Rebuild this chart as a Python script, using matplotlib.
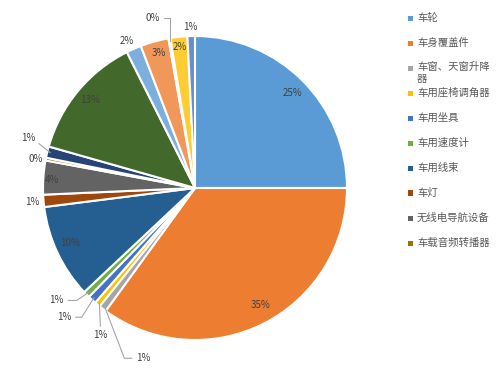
import numpy as np
import matplotlib
matplotlib.use("Agg")
from matplotlib import pyplot as plt
from matplotlib.patches import Rectangle

plt.rcParams['font.family'] = ['Noto Sans CJK SC', 'DejaVu Sans']

# slice names (the Excel legend only shows the first ten)
categories = ['车轮', '车身覆盖件', '车窗、天窗升降器', '车用座椅调角器', '车用坐具',
              '车用速度计', '车用线束', '车灯', '无线电导航设备', '车载音频转播器',
              '', '', '', '', '', '', '']
# share in percent, clockwise from 12 o'clock
values = [25.0, 35.0, 0.8, 0.6, 0.9, 0.7, 10.0, 1.3, 3.6, 0.3,
          1.2, 13.2, 1.6, 3.0, 0.2, 1.8, 0.8]

colors = ['#5B9BD5', '#ED7D31', '#A5A5A5', '#FFC000', '#4472C4', '#70AD47',
          '#255E91', '#9E480E', '#636363', '#997300', '#264478', '#43682B',
          '#7CAFDD', '#F1975A', '#B7B7B7', '#FFCD33', '#698ED0']

# label placement (axes data units); leader = connection style or None
label_pos = [(0.64, 0.625), (0.43, -0.77), (-0.34, -1.12), (-0.62, -0.97),
             (-0.86, -0.85), (-0.91, -0.74), (-0.82, -0.36), (-1.07, -0.09),
             (-0.94, 0.05), (-1.05, 0.19), (-1.10, 0.33), (-0.69, 0.58),
             (-0.45, 0.97), (-0.24, 0.89), (-0.28, 1.12), (-0.10, 0.93),
             (-0.03, 1.06)]
leader = [None, None, "angle,angleA=0,angleB=-69,rad=0", "arc3",
          "angle,angleA=0,angleB=58,rad=0", "angle,angleA=0,angleB=34,rad=0",
          None, None, None, None, "angle,angleA=0,angleB=-39,rad=0", None,
          None, None, "angle,angleA=0,angleB=90,rad=0", None, None]

text_color = '#404040'

fig = plt.figure(figsize=(5.03, 3.82), dpi=100)
ax = fig.add_axes([43 / 503, 42 / 382, 304 / 503, 304 / 382])

wedges, _ = ax.pie(values, colors=colors, startangle=90, counterclock=False,
                   radius=1.0, wedgeprops=dict(edgecolor='white', linewidth=1.5))
ax.set_xlim(-1, 1)
ax.set_ylim(-1, 1)
ax.set_aspect('auto')
ax.axis('off')

for w, v, pos, lead in zip(wedges, values, label_pos, leader):
    txt = f"{round(v)}%"
    if lead:
        ang = np.deg2rad((w.theta1 + w.theta2) / 2)
        edge = (0.98 * np.cos(ang), 0.98 * np.sin(ang))
        ax.annotate(txt, xy=edge, xytext=pos, ha='center', va='center',
                    fontsize=7, color=text_color, annotation_clip=False,
                    arrowprops=dict(arrowstyle='-', color='#A6A6A6', lw=0.8,
                                    shrinkA=1, shrinkB=0, connectionstyle=lead))
    else:
        ax.text(pos[0], pos[1], txt, ha='center', va='center', fontsize=7,
                color=text_color, clip_on=False)

# legend, drawn by hand like the Excel one (ten entries, 25 px apart)
for i in range(10):
    y = (382 - (18 + 25 * i)) / 382
    fig.add_artist(Rectangle((408 / 503, y - 2.5 / 382), 5 / 503, 5 / 382,
                             transform=fig.transFigure, color=colors[i], lw=0))
    label = categories[i]
    if label == '车窗、天窗升降器':
        label = '车窗、天窗升降\n器'
        fig.text(417 / 503, y + 6 / 382, label, ha='left', va='top',
                 fontsize=7.5, color='#595959', linespacing=1.2)
    else:
        fig.text(417 / 503, y, label, ha='left', va='center',
                 fontsize=7.5, color='#595959')

plt.savefig("out.png", dpi=100)
